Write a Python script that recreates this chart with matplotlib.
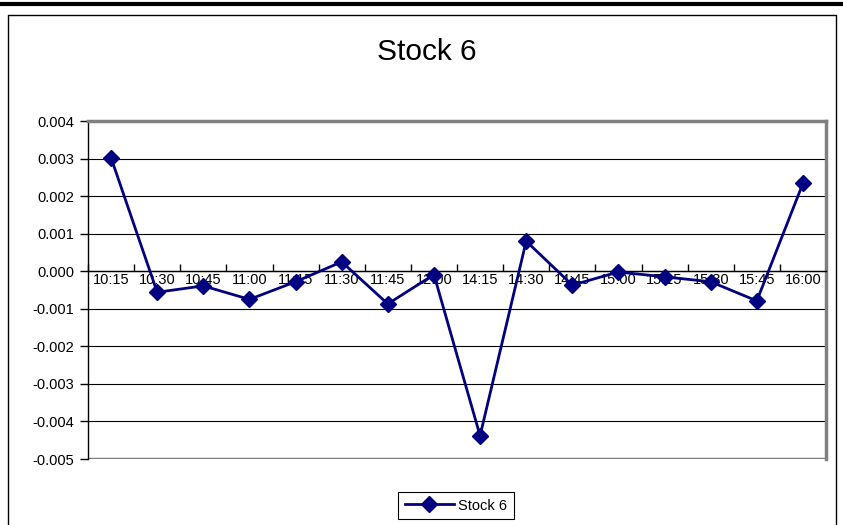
import matplotlib
matplotlib.use("Agg")
import matplotlib.pyplot as plt
from matplotlib.lines import Line2D
from matplotlib.ticker import FormatStrFormatter, FixedLocator

plt.rcParams['font.family'] = ['Liberation Sans', 'DejaVu Sans']
plt.rcParams['axes.unicode_minus'] = False

# data
times = ['10:15', '10:30', '10:45', '11:00', '11:15', '11:30', '11:45', '12:00',
         '14:15', '14:30', '14:45', '15:00', '15:15', '15:30', '15:45', '16:00']
stock6 = [0.00302, -0.00056, -0.00039, -0.00075, -0.00028, 0.00025, -0.00087, -0.00009,
          -0.00438, 0.00080, -0.00037, -0.00002, -0.00015, -0.00028, -0.00079, 0.00234]
yticks = [-0.005, -0.004, -0.003, -0.002, -0.001, 0.000, 0.001, 0.002, 0.003, 0.004]

W, H = 843, 525
fig = plt.figure(figsize=(W / 100, H / 100), dpi=100)
ax = fig.add_axes([88 / W, 1 - 459 / H, (826 - 88) / W, (459 - 121) / H])

x = list(range(len(times)))
ax.plot(x, stock6, color='#000080', lw=2, marker='D', ms=8, label='Stock 6', zorder=5)

ax.set_xlim(-0.5, len(times) - 0.5)
ax.set_ylim(-0.005, 0.004)

# gridlines
for v in yticks[1:-1]:
    ax.axhline(v, color='black', lw=0.8, zorder=1)
ax.axhline(-0.005, color='#808080', lw=2.5, zorder=2)

ax.set_yticks(yticks)
ax.yaxis.set_major_formatter(FormatStrFormatter('%.3f'))
ax.tick_params(axis='y', direction='out', length=6, width=1, labelsize=10.5, pad=4)

# category axis crosses at zero
ax.spines['bottom'].set_position(('data', 0))
ax.spines['bottom'].set_color('black')
ax.spines['bottom'].set_linewidth(1)
ax.xaxis.set_major_locator(FixedLocator([i + 0.5 for i in range(-1, len(times))]))
ax.xaxis.set_minor_locator(FixedLocator(x))
ax.set_xticklabels([], minor=False)
ax.set_xticklabels(times, minor=True)
ax.tick_params(axis='x', which='major', direction='in', length=5, width=1, labelbottom=False)
ax.tick_params(axis='x', which='minor', length=0, labelsize=10.5, pad=1.5)

ax.spines['left'].set_color('black')
ax.spines['left'].set_linewidth(1)
for s in ['top', 'right']:
    ax.spines[s].set_color('#808080')
    ax.spines[s].set_linewidth(2.5)

fig.text(427 / W, 1 - 52 / H, 'Stock 6', ha='center', va='center', fontsize=21.5)

leg = ax.legend(loc='center', bbox_to_anchor=(456 / W, 1 - 505.5 / H),
                bbox_transform=fig.transFigure, fontsize=10.5, fancybox=False,
                edgecolor='black', framealpha=1, handlelength=3.4, handletextpad=0.3,
                borderpad=0.45, borderaxespad=0)
leg.get_frame().set_linewidth(0.8)

# outer frame and thick top rule
fig.add_artist(Line2D([0, 1], [1 - 4 / H, 1 - 4 / H], color='black', lw=3))
fig.add_artist(Line2D([8 / W, 8 / W, 836 / W, 836 / W], [0, 1 - 15 / H, 1 - 15 / H, 0],
                      color='black', lw=1))

fig.savefig('out.png', dpi=100)
